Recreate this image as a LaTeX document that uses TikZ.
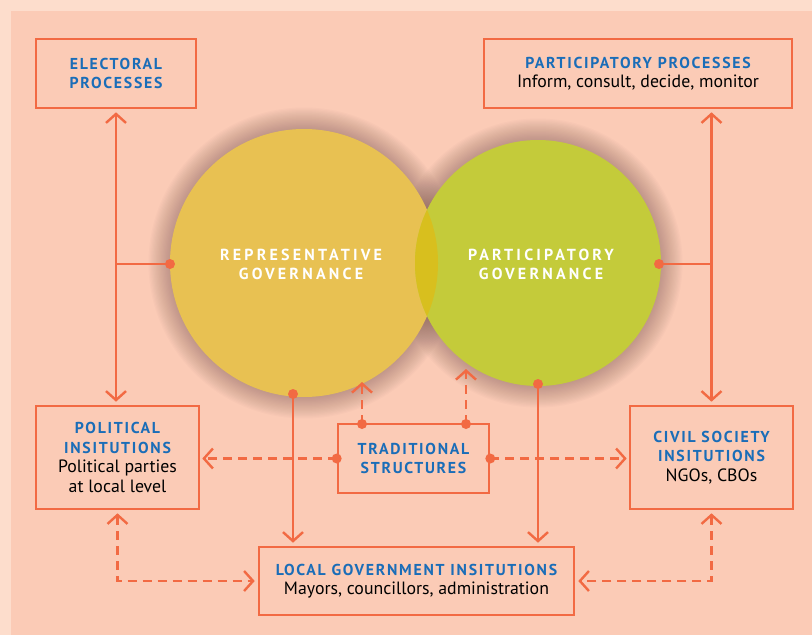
\documentclass[tikz,border=0pt]{standalone}
\usepackage{fontspec}
\setmainfont{PT Sans}
\newfontfamily\capsfont[LetterSpace=11]{PT Sans}
\newfontfamily\bigcapsfont[LetterSpace=20]{PT Sans}
\usetikzlibrary{arrows.meta}
\definecolor{outerbg}{HTML}{FDDDCC}
\definecolor{panel}{HTML}{FBCBB6}
\definecolor{lc}{HTML}{F26A43}
\definecolor{tblue}{HTML}{1A6DB8}
\definecolor{yel}{HTML}{E8C152}
\definecolor{grn}{HTML}{C4CB3A}
\definecolor{lens}{HTML}{D8BF1E}
\definecolor{shd}{HTML}{6A4848}
\newcommand{\ttl}{\color{tblue}\capsfont\bfseries\fontsize{15.8}{19.5}\selectfont}
\begin{document}
\begin{tikzpicture}[x=1pt,y=-1pt,
  >={Straight Barb[length=9pt,width=20pt]},
  conn/.style={draw=lc, line width=2.4pt},
  dsh/.style={conn, dash pattern=on 9pt off 6pt},
  box/.style={draw=lc, line width=2.6pt, fill=panel, inner sep=0pt, align=center,
    font=\fontsize{17.8}{19.5}\selectfont, text=black},
  circ/.style={circle, inner sep=0pt, align=center, text=white,
    font=\bigcapsfont\bfseries\fontsize{16}{19}\selectfont},
  dot/.style={fill=lc}]
\useasboundingbox (0,0) rectangle (812,635);
\fill[outerbg] (0,0) rectangle (812,635);
\fill[panel] (11,11) rectangle (812,635);
% shadows
\foreach \i in {1,...,18}{
  \fill[shd, opacity=0.022] (304,263) circle ({133pt+\i*1.25pt});
  \fill[shd, opacity=0.022] (538,263) circle ({122pt+\i*1.25pt});
}
% circles
\node[circ, fill=yel, minimum size=268pt] (repC) at (304,263) {};
\node[circ, fill=grn, minimum size=246pt] (parC) at (538,263) {};
\begin{scope}
  \clip (304,263) circle (134pt);
  \fill[lens] (538,263) circle (123pt);
\end{scope}
\node[circ] (repT) at (301,264) {REPRESENTATIVE\\GOVERNANCE};
\node[circ] (parT) at (541,264) {PARTICIPATORY\\GOVERNANCE};
% boxes
\node[box, minimum width=160pt, minimum height=69pt] (elec) at (116,73.5)
  {{\ttl ELECTORAL}\\{\ttl PROCESSES}};
\node[box, minimum width=308pt, minimum height=69pt] (pp) at (638,73.5)
  {{\ttl PARTICIPATORY PROCESSES}\\Inform, consult, decide, monitor};
\node[box, minimum width=163pt, minimum height=103pt] (pol) at (117.5,457.5)
  {{\ttl POLITICAL}\\{\ttl INSITUTIONS}\\Political parties\\at local level};
\node[box, minimum width=151pt, minimum height=69pt] (trad) at (413.5,458.5)
  {{\ttl TRADITIONAL}\\{\ttl STRUCTURES}};
\node[box, minimum width=163pt, minimum height=103pt] (civ) at (711.5,457.5)
  {{\ttl CIVIL SOCIETY}\\{\ttl INSITUTIONS}\\NGOs, CBOs};
\node[box, minimum width=315pt, minimum height=68pt] (loc) at (416.5,581)
  {{\ttl LOCAL GOVERNMENT INSITUTIONS}\\Mayors, councillors, administration};
% coordinates
\coordinate (dRL) at (170,264);
\coordinate (dPR) at (659,264);
\coordinate (dRB) at (293,394);
\coordinate (dPB) at (538,384);
\coordinate (tTL) at (362,424);
\coordinate (tTR) at (466,424);
\coordinate (aTL) at (362,382);
\coordinate (aTR) at (466,369);
% connectors
\draw[conn,<->,shorten <=3pt,shorten >=3pt] (elec.south) -- (elec.south |- pol.north);
\draw[conn] (dRL) -- (dRL -| elec.south);
\draw[conn,<->,shorten <=3pt,shorten >=3pt] (civ.north |- pp.south) -- (civ.north);
\draw[conn] (dPR) -- (dPR -| civ.north);
\draw[conn,->,shorten >=3pt] (dRB) -- (dRB |- loc.north);
\draw[conn,->,shorten >=3pt] (dPB) -- (dPB |- loc.north);
\draw[dsh,->] (tTL) -- (aTL);
\draw[dsh,->] (tTR) -- (aTR);
\draw[dsh,->,shorten >=2pt] (trad.west) -- (trad.west -| pol.east);
\draw[dsh,->,shorten >=2pt] (trad.east) -- (trad.east -| civ.west);
\draw[dsh,<->,shorten <=3pt,shorten >=3pt] (pol.south) |- (loc.west);
\draw[dsh,<->,shorten <=3pt,shorten >=3pt] (civ.south) |- (loc.east);
% dots
\foreach \p in {dRL,dPR,dRB,dPB,tTL,tTR,trad.west,trad.east}
  \fill[dot] (\p) circle (5pt);
\end{tikzpicture}
\end{document}
